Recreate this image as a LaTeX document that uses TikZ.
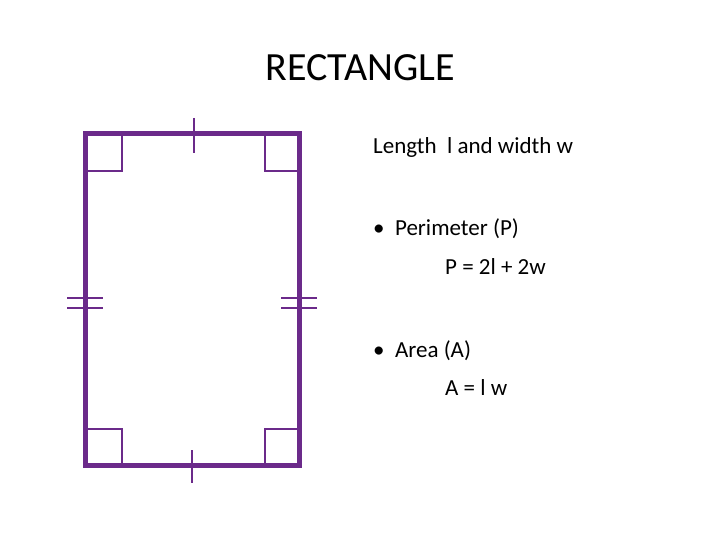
\documentclass[tikz,border=0pt]{standalone}
\usepackage{fontspec}
\setmainfont{Carlito}
\definecolor{pur}{HTML}{6B2A8A}
\begin{document}
\begin{tikzpicture}[x=1pt,y=-1pt,
  thin line/.style={draw=pur,line width=2pt},
  txt/.style={anchor=base west,inner sep=0pt,font=\fontsize{23}{28}\selectfont}]
\useasboundingbox (0,0) rectangle (720,540);
\coordinate (tl) at (85,134); \coordinate (br) at (299,465);
\draw[pur,line width=5pt,line join=miter] (tl) rectangle (br);
\draw[thin line] (85,171) -- (122,171) -- (122,134);
\draw[thin line] (299,171) -- (265,171) -- (265,134);
\draw[thin line] (85,429) -- (122,429) -- (122,465);
\draw[thin line] (299,429) -- (265,429) -- (265,465);
\draw[thin line] (194,118) -- (194,153);
\draw[thin line] (192,450) -- (192,483);
\draw[thin line] (67,298) -- (103,298) (67,308) -- (103,308);
\draw[thin line] (281,298) -- (317,298) (281,308) -- (317,308);
\node[anchor=base,inner sep=0pt,font=\fontsize{40}{48}\selectfont] (title) at (360,81) {RECTANGLE};
\node[txt] (t1) at (373,154) {Length\ \ l and width w};
\node[txt] (t2) at (373,236) {•\ \ Perimeter (P)};
\node[txt] (t3) at (445,274) {P = 2l + 2w};
\node[txt] (t4) at (373,357) {•\ \ Area (A)};
\node[txt] (t5) at (445,395) {A = l w};
\end{tikzpicture}
\end{document}
